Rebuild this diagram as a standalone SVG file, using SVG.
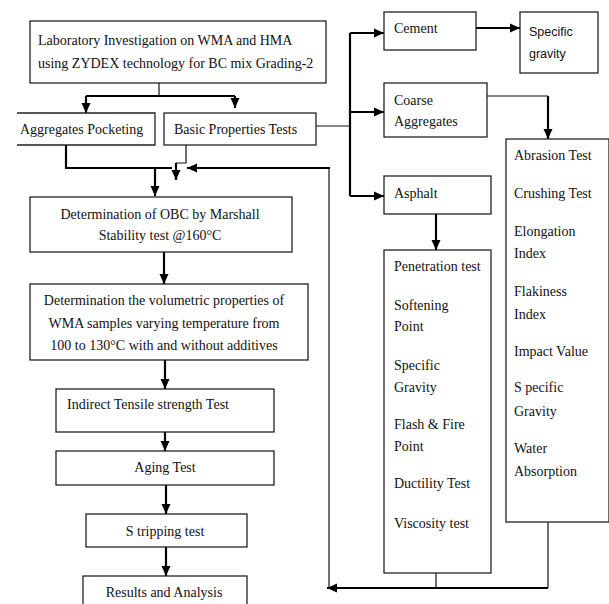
<svg xmlns="http://www.w3.org/2000/svg" width="609" height="604" viewBox="0 0 609 604">
<defs>
<marker id="ah" markerUnits="userSpaceOnUse" markerWidth="10" markerHeight="10" viewBox="0 0 10 10" refX="10" refY="5" orient="auto">
<path d="M0,0.5 L10,5 L0,9.5 Z" fill="#000"/>
</marker>
<style>
.box{fill:#fff;stroke:#222;stroke-width:1.3}
.t{font-family:"Liberation Serif","Times New Roman",serif;font-size:14px;fill:#111}
.s{font-family:"Liberation Sans",Arial,sans-serif;font-size:12.5px;fill:#111}
.c{text-anchor:middle}
.thick{fill:none;stroke:#000;stroke-width:2.2}
.thin{fill:none;stroke:#111;stroke-width:1.2}
.arr{fill:none;stroke:#000;stroke-width:2.2;marker-end:url(#ah)}
</style>
</defs>
<rect width="609" height="604" fill="#fff"/>

<g id="connectors">
<path class="thin" d="M159,83 V96"/>
<path class="thick" d="M86,96 H235"/>
<path class="arr" d="M86,96 V113"/>
<path class="arr" d="M235,96 V108"/>
<path class="thin" d="M316,126 H350"/>
<path class="thick" d="M350,33 V196"/>
<path class="arr" d="M350,33 H384"/>
<path class="arr" d="M350,112 H384"/>
<path class="arr" d="M350,196 H384"/>
<path class="arr" d="M476,28 H520"/>
<path class="thin" d="M487,96 H548"/>
<path class="arr" d="M548,96 V139"/>
<path class="arr" d="M436,214 V250"/>
<path class="thin" d="M436,573 V588"/>
<path class="thin" d="M548,522 V588"/>
<path class="arr" d="M548,588 H327"/>
<path class="thin" d="M329,588 V168"/>
<path class="arr" d="M330,168 H187"/>
<path class="thick" d="M66,145 V168 H172"/>
<path class="arr" d="M155,168 V196"/>
<path class="thin" d="M186,145 V163 H176"/>
<path class="arr" d="M176,163 V180"/>
<path class="arr" d="M164,252 V284"/>
<path class="arr" d="M165,360 V389"/>
<path class="arr" d="M165,432 V451"/>
<path class="arr" d="M166,485 V514"/>
<path class="arr" d="M166,547 V576"/>
</g>

<g id="n-top">
<rect class="box" x="30" y="21" width="296" height="62"/>
<text class="t" x="38" y="45">Laboratory Investigation on WMA and HMA</text>
<text class="t" x="38" y="68">using ZYDEX technology for BC mix Grading-2</text>
</g>
<g id="n-aggpock">
<rect x="17" y="113" width="138" height="32" fill="#fff"/>
<path d="M17,113 H155 V145 H17" fill="none" stroke="#222" stroke-width="1.3"/>
<text class="t" x="20" y="134">Aggregates Pocketing</text>
</g>
<g id="n-basic">
<rect class="box" x="164" y="113" width="152" height="32"/>
<text class="t" x="174" y="134">Basic Properties Tests</text>
</g>
<g id="n-cement">
<rect class="box" x="384" y="12" width="92" height="38"/>
<text class="t" x="394" y="33">Cement</text>
</g>
<g id="n-sg">
<rect class="box" x="520" y="12" width="78" height="61"/>
<text class="s" x="529" y="36">Specific</text>
<text class="s" x="529" y="58">gravity</text>
</g>
<g id="n-coarse">
<rect class="box" x="384" y="83" width="103" height="54"/>
<text class="t" x="394" y="105">Coarse</text>
<text class="t" x="394" y="126">Aggregates</text>
</g>
<g id="n-asphalt">
<rect class="box" x="384" y="176" width="107" height="38"/>
<text class="t" x="394" y="198">Asphalt</text>
</g>
<g id="n-aggtests">
<rect class="box" x="506" y="139" width="103" height="383"/>
<text class="t" x="514" y="160">Abrasion Test</text>
<text class="t" x="514" y="198">Crushing Test</text>
<text class="t" x="514" y="236">Elongation</text>
<text class="t" x="514" y="258">Index</text>
<text class="t" x="514" y="296">Flakiness</text>
<text class="t" x="514" y="319">Index</text>
<text class="t" x="514" y="356">Impact Value</text>
<text class="t" x="514" y="392">S pecific</text>
<text class="t" x="514" y="416">Gravity</text>
<text class="t" x="514" y="453">Water</text>
<text class="t" x="514" y="476">Absorption</text>
</g>
<g id="n-bitumentests">
<rect class="box" x="384" y="250" width="107" height="323"/>
<text class="t" x="394" y="271">Penetration test</text>
<text class="t" x="394" y="310">Softening</text>
<text class="t" x="394" y="331">Point</text>
<text class="t" x="394" y="370">Specific</text>
<text class="t" x="394" y="392">Gravity</text>
<text class="t" x="394" y="429">Flash &amp; Fire</text>
<text class="t" x="394" y="451">Point</text>
<text class="t" x="394" y="488">Ductility Test</text>
<text class="t" x="394" y="528">Viscosity test</text>
</g>
<g id="n-obc">
<rect class="box" x="30" y="197" width="262" height="55"/>
<text class="t c" x="160" y="219">Determination of OBC by Marshall</text>
<text class="t c" x="160" y="240">Stability test @160°C</text>
</g>
<g id="n-vol">
<rect class="box" x="30" y="284" width="278" height="76"/>
<text class="t c" x="164" y="305">Determination the volumetric properties of</text>
<text class="t c" x="164" y="328">WMA samples varying temperature from</text>
<text class="t c" x="164" y="350">100 to 130°C with and without additives</text>
</g>
<g id="n-itst">
<rect class="box" x="56" y="389" width="218" height="43"/>
<text class="t" x="67" y="409">Indirect Tensile strength Test</text>
</g>
<g id="n-aging">
<rect class="box" x="56" y="451" width="218" height="34"/>
<text class="t c" x="165" y="472">Aging Test</text>
</g>
<g id="n-strip">
<rect class="box" x="86" y="514" width="161" height="33"/>
<text class="t c" x="165" y="536">S tripping test</text>
</g>
<g id="n-results">
<rect class="box" x="83" y="576" width="164" height="40"/>
<text class="t c" x="164" y="597">Results and Analysis</text>
</g>
</svg>
